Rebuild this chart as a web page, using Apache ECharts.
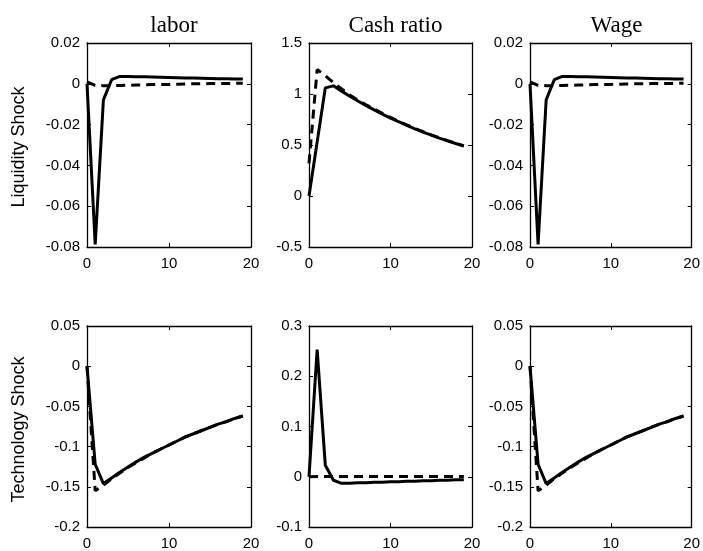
<!DOCTYPE html>
<html>
<head>
<meta charset="utf-8">
<script src="https://cdn.jsdelivr.net/npm/echarts@6/dist/echarts.min.js"></script>
<style>html,body{margin:0;padding:0;background:#fff;}#c{width:703px;height:551px;}</style>
</head>
<body>
<div id="c"></div>
<script>
const periods = [0,1,2,3,4,5,6,7,8,9,10,11,12,13,14,15,16,17,18,19];
const colTitles = ['labor', 'Cash ratio', 'Wage'];
const rowNames = ['Liquidity Shock', 'Technology Shock'];

const laborLiqSolid  = [0, -0.0787, -0.0079, 0.002, 0.0036, 0.0036, 0.0035, 0.0034, 0.0033, 0.0032, 0.0031, 0.003, 0.0029, 0.0028, 0.0027, 0.0026, 0.0025, 0.0025, 0.0024, 0.0023];
const laborLiqDashed = [0.001, -0.0008, -0.0009, -0.0009, -0.0008, -0.0007, -0.0006, -0.0005, -0.0004, -0.0003, -0.0003, -0.0002, -0.0001, 0, 0, 0.0001, 0.0001, 0.0002, 0.0002, 0.0003];
const cashLiqSolid   = [0, 0.53, 1.06, 1.08, 1.028, 0.978, 0.931, 0.886, 0.844, 0.803, 0.764, 0.728, 0.693, 0.659, 0.627, 0.597, 0.568, 0.541, 0.515, 0.49];
const cashLiqDashed  = [0.32, 1.24, 1.18, 1.11, 1.05, 0.99, 0.94, 0.895, 0.852, 0.81, 0.77, 0.733, 0.697, 0.663, 0.631, 0.6, 0.571, 0.543, 0.517, 0.492];
const wageLiqSolid   = [0, -0.0787, -0.0079, 0.002, 0.0036, 0.0036, 0.0035, 0.0034, 0.0033, 0.0032, 0.0031, 0.003, 0.0029, 0.0028, 0.0027, 0.0026, 0.0025, 0.0025, 0.0024, 0.0023];
const wageLiqDashed  = [0.001, -0.0008, -0.0009, -0.0009, -0.0008, -0.0007, -0.0006, -0.0005, -0.0004, -0.0003, -0.0003, -0.0002, -0.0001, 0, 0, 0.0001, 0.0001, 0.0002, 0.0002, 0.0003];

const laborTechSolid  = [0, -0.122, -0.146, -0.139, -0.132, -0.1255, -0.119, -0.113, -0.108, -0.103, -0.098, -0.093, -0.088, -0.084, -0.080, -0.076, -0.072, -0.069, -0.065, -0.062];
const laborTechDashed = [0, -0.155, -0.148, -0.14, -0.133, -0.126, -0.12, -0.114, -0.108, -0.103, -0.098, -0.093, -0.088, -0.084, -0.08, -0.076, -0.072, -0.069, -0.065, -0.062];
const cashTechSolid   = [0, 0.253, 0.023, -0.007, -0.013, -0.013, -0.012, -0.012, -0.011, -0.011, -0.01, -0.01, -0.009, -0.009, -0.008, -0.008, -0.007, -0.007, -0.006, -0.006];
const cashTechDashed  = [0, 0.0005, 0.0005, 0.0005, 0.0005, 0.0005, 0.0005, 0.0005, 0.0005, 0.0005, 0.0005, 0.0005, 0.0005, 0.0005, 0.0005, 0.0005, 0.0005, 0.0005, 0.0005, 0.0005];
const wageTechSolid   = [0, -0.122, -0.146, -0.139, -0.132, -0.1255, -0.119, -0.113, -0.108, -0.103, -0.098, -0.093, -0.088, -0.084, -0.080, -0.076, -0.072, -0.069, -0.065, -0.062];
const wageTechDashed  = [0, -0.155, -0.148, -0.14, -0.133, -0.126, -0.12, -0.114, -0.108, -0.103, -0.098, -0.093, -0.088, -0.084, -0.08, -0.076, -0.072, -0.069, -0.065, -0.062];

const xTicks = {min: 0, max: 20, interval: 10};
const yRanges = [
  [{min: -0.08, max: 0.02, interval: 0.02}, {min: -0.5, max: 1.5, interval: 0.5}, {min: -0.08, max: 0.02, interval: 0.02}],
  [{min: -0.2, max: 0.05, interval: 0.05}, {min: -0.1, max: 0.3, interval: 0.1}, {min: -0.2, max: 0.05, interval: 0.05}]
];
const panels = [
  [[laborLiqSolid, laborLiqDashed], [cashLiqSolid, cashLiqDashed], [wageLiqSolid, wageLiqDashed]],
  [[laborTechSolid, laborTechDashed], [cashTechSolid, cashTechDashed], [wageTechSolid, wageTechDashed]]
];

const colLeft = [87, 309, 530];
const colWidth = [164, 163, 163];
const rowTop = [43, 326];
const rowHeight = [204, 203];

const fmt = v => String(parseFloat(v.toFixed(4)));
const lineStyleAxis = {show: true, onZero: false, lineStyle: {color: '#000', width: 1.3}};
const tickIn = {show: true, inside: true, length: 4, lineStyle: {color: '#000', width: 1}};
const labelStyle = {color: '#000', fontFamily: 'Liberation Sans, Arial, sans-serif', fontSize: 15};

const grid = [], xAxis = [], yAxis = [], series = [], title = [], graphic = [];
let g = 0;
for (let r = 0; r < 2; r++) {
  for (let c = 0; c < 3; c++) {
    grid.push({left: colLeft[c], top: rowTop[r], width: colWidth[c], height: rowHeight[r], containLabel: false});
    const yr = yRanges[r][c];
    xAxis.push({type: 'value', gridIndex: g, position: 'bottom', min: xTicks.min, max: xTicks.max, interval: xTicks.interval,
      axisLine: lineStyleAxis, axisTick: tickIn, splitLine: {show: false},
      axisLabel: Object.assign({margin: 9, formatter: fmt, showMinLabel: true, showMaxLabel: true}, labelStyle)});
    xAxis.push({type: 'value', gridIndex: g, position: 'top', min: xTicks.min, max: xTicks.max, interval: xTicks.interval,
      axisLine: lineStyleAxis, axisTick: tickIn, splitLine: {show: false}, axisLabel: {show: false}});
    yAxis.push({type: 'value', gridIndex: g, position: 'left', min: yr.min, max: yr.max, interval: yr.interval,
      axisLine: lineStyleAxis, axisTick: tickIn, splitLine: {show: false},
      axisLabel: Object.assign({margin: 7, formatter: fmt, showMinLabel: true, showMaxLabel: true}, labelStyle)});
    yAxis.push({type: 'value', gridIndex: g, position: 'right', min: yr.min, max: yr.max, interval: yr.interval,
      axisLine: lineStyleAxis, axisTick: tickIn, splitLine: {show: false}, axisLabel: {show: false}});
    const [solid, dashed] = panels[r][c];
    series.push({type: 'line', xAxisIndex: 2 * g, yAxisIndex: 2 * g, data: periods.map((t, i) => [t, solid[i]]),
      symbol: 'none', smooth: false, lineStyle: {color: '#000', width: 3, type: 'solid'}, silent: true, animation: false, z: 3});
    series.push({type: 'line', xAxisIndex: 2 * g, yAxisIndex: 2 * g, data: periods.map((t, i) => [t, dashed[i]]),
      symbol: 'none', smooth: false, lineStyle: {color: '#000', width: 3, type: [9, 6]}, silent: true, animation: false, z: 4});
    g++;
  }
}
for (let c = 0; c < 3; c++) {
  title.push({text: colTitles[c], left: colLeft[c] + colWidth[c] / 2, top: 9, textAlign: 'center',
    textStyle: {color: '#000', fontFamily: 'Liberation Serif, Times New Roman, serif', fontSize: 23, fontWeight: 'normal'}});
}
for (let r = 0; r < 2; r++) {
  graphic.push({type: 'text', x: 19, y: rowTop[r] + rowHeight[r] / 2 + 2, rotation: Math.PI / 2,
    style: {text: rowNames[r], textAlign: 'center', textVerticalAlign: 'middle', fill: '#000',
      font: '18px "Liberation Sans", Arial, sans-serif'}});
}

const chart = echarts.init(document.getElementById('c'), null, {renderer: 'canvas'});
chart.setOption({backgroundColor: '#fff', animation: false, title, grid, xAxis, yAxis, series, graphic});
</script>
</body>
</html>
